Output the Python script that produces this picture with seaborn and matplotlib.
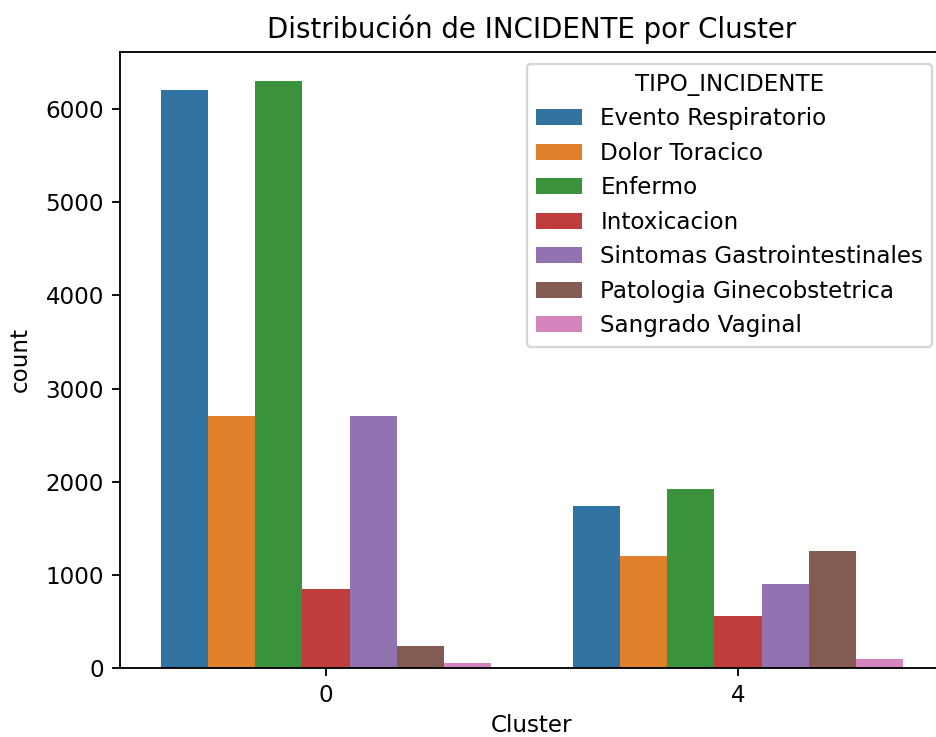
import matplotlib
matplotlib.use("Agg")
import matplotlib.pyplot as plt
import pandas as pd
import seaborn as sns

clusters = ["0", "4"]
tipos = ["Evento Respiratorio", "Dolor Toracico", "Enfermo", "Intoxicacion",
         "Sintomas Gastrointestinales", "Patologia Ginecobstetrica", "Sangrado Vaginal"]
counts_c0 = [6212, 2706, 6301, 843, 2706, 237, 54]
counts_c4 = [1742, 1201, 1918, 559, 900, 1258, 94]

rows = []
for cl, vals in zip(clusters, [counts_c0, counts_c4]):
    for t, v in zip(tipos, vals):
        rows.append({"Cluster": cl, "TIPO_INCIDENTE": t, "count": v})
df = pd.DataFrame(rows)

dpi = 166
fig = plt.figure(figsize=(936 / dpi, 737 / dpi), dpi=dpi)
# axes runs a little past the right edge, as in the cropped original
ax = fig.add_axes([120 / 936, (737 - 667.7) / 737, (944 - 120) / 936, (667.7 - 52) / 737])

sns.barplot(data=df, x="Cluster", y="count", hue="TIPO_INCIDENTE",
            order=clusters, hue_order=tipos, ax=ax)
ax.set_title("Distribución de INCIDENTE por Cluster")
ax.set_xlabel("Cluster", labelpad=3)
ax.set_ylabel("count", labelpad=6)
ax.spines["right"].set_visible(False)  # cropped away in the original
sns.move_legend(ax, "upper right")

fig.savefig("out.png", dpi=dpi)
